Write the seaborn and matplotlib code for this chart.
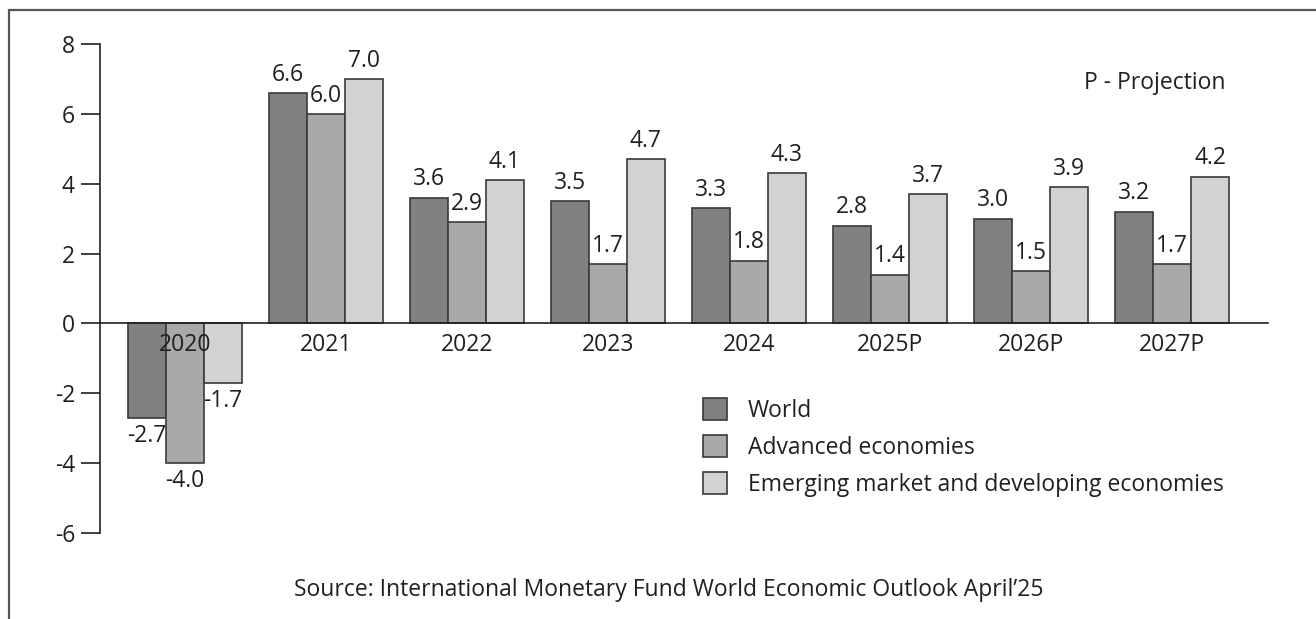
import pandas as pd
import seaborn as sns
from matplotlib import pyplot as plt
from matplotlib.lines import Line2D

years = ["2020", "2021", "2022", "2023", "2024", "2025P", "2026P", "2027P"]
world = [-2.7, 6.6, 3.6, 3.5, 3.3, 2.8, 3.0, 3.2]
advanced = [-4.0, 6.0, 2.9, 1.7, 1.8, 1.4, 1.5, 1.7]
emerging = [-1.7, 7.0, 4.1, 4.7, 4.3, 3.7, 3.9, 4.2]
series = ["World", "Advanced economies", "Emerging market and developing economies"]
colors = ["#808185", "#a8a9ac", "#d1d2d4"]

rows = []
for name, vals in zip(series, [world, advanced, emerging]):
    for y, v in zip(years, vals):
        rows.append({"year": y, "series": name, "value": v})
df = pd.DataFrame(rows)

sns.set_style("white")
plt.rcParams["font.family"] = ["Open Sans", "DejaVu Sans"]
plt.rcParams["axes.unicode_minus"] = False
txt = "#231f20"
fs = 16.5

W, H = 1316, 619
fig = plt.figure(figsize=(W / 100, H / 100), dpi=100)
ax = fig.add_axes([100 / W, (H - 533) / H, (1268 - 100) / W, (533 - 44) / H])

sns.barplot(data=df, x="year", y="value", hue="series", palette=colors,
            width=0.81, edgecolor="#3a3a3c", linewidth=1.2, ax=ax, legend=True)

for cont in ax.containers:
    ax.bar_label(cont, fmt="%.1f", padding=4.5, fontsize=fs, color=txt)

ax.set_ylim(-6, 8)
ax.set_yticks([-6, -4, -2, 0, 2, 4, 6, 8])
ax.set_xlim(-0.6, 7.68)
ax.set_xlabel("")
ax.set_ylabel("")
ax.set_axisbelow(False)
ax.xaxis.set_zorder(5)

for s in ["top", "right"]:
    ax.spines[s].set_visible(False)
ax.spines["bottom"].set_position(("data", 0))
ax.spines["bottom"].set_color("#231f20")
ax.spines["left"].set_color("#231f20")
ax.spines["left"].set_linewidth(1.2)
ax.spines["bottom"].set_linewidth(1.2)
ax.tick_params(axis="x", length=0, pad=7, labelsize=fs, labelcolor=txt)
ax.tick_params(axis="y", length=14, width=1.2, color="#231f20", pad=4,
               labelsize=fs, labelcolor=txt, left=True)

ax.legend(loc="upper left", bbox_to_anchor=(703 / W, (H - 398) / H),
          bbox_transform=fig.transFigure, frameon=False, fontsize=fs,
          handlelength=1.05, handleheight=1.09, handletextpad=0.92,
          labelspacing=0.54, borderpad=0, borderaxespad=0, labelcolor=txt)

fig.text(1226 / W, (H - 83) / H, "P - Projection", ha="right", va="center",
         fontsize=fs, color=txt)
fig.text(669 / W, (H - 590) / H,
         "Source: International Monetary Fund World Economic Outlook April\u201925",
         ha="center", va="center", fontsize=fs, color=txt)

fig.add_artist(Line2D([9 / W, 1], [1 - 10 / H, 1 - 10 / H], color="#555555", lw=1.6))
fig.add_artist(Line2D([9 / W, 9 / W], [0, 1 - 10 / H], color="#555555", lw=1.6))

fig.savefig("out.png", dpi=100)
